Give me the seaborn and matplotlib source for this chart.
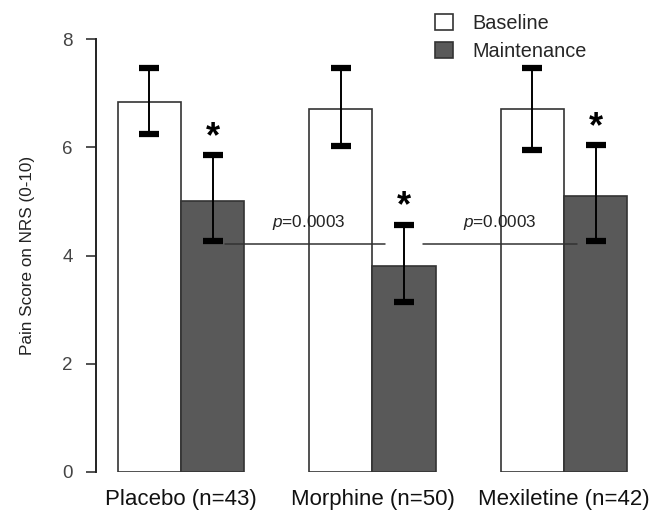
import matplotlib
matplotlib.use("Agg")
import matplotlib.pyplot as plt
import seaborn as sns
import pandas as pd
import numpy as np

# ---- data ----
groups = ["Placebo (n=43)", "Morphine (n=50)", "Mexiletine (n=42)"]
phases = ["Baseline", "Maintenance"]
baseline_mean = [6.83, 6.70, 6.70]
baseline_upper = [7.46, 7.46, 7.46]
baseline_lower = [6.24, 6.03, 5.95]
maint_mean = [5.01, 3.80, 5.10]
maint_upper = [5.86, 4.57, 6.04]
maint_lower = [4.26, 3.14, 4.26]
p_labels = ["p=0.0003", "p=0.0003"]
p_line_level = 4.22
y_ticks = [0, 2, 4, 6, 8]

sns.set_theme(style="white")
plt.rcParams["font.family"] = ["Liberation Sans", "DejaVu Sans"]
plt.rcParams["mathtext.fontset"] = "custom"
plt.rcParams["mathtext.rm"] = "Liberation Sans"
plt.rcParams["mathtext.it"] = "Liberation Sans:italic"

df = pd.DataFrame({
    "group": groups * 2,
    "phase": ["Baseline"] * 3 + ["Maintenance"] * 3,
    "value": baseline_mean + maint_mean,
})

fig = plt.figure(figsize=(6.5, 5.14), dpi=100)
ax = fig.add_axes([95.7 / 650, 42 / 514, 544.3 / 650, 433 / 514])

palette = {"Baseline": "white", "Maintenance": "#595959"}
sns.barplot(data=df, x="group", y="value", hue="phase", order=groups,
            hue_order=phases, palette=palette, width=0.662, errorbar=None,
            edgecolor="#333333", linewidth=1.2, ax=ax, saturation=1)

means = {"Baseline": baseline_mean, "Maintenance": maint_mean}
uppers = {"Baseline": baseline_upper, "Maintenance": maint_upper}
lowers = {"Baseline": baseline_lower, "Maintenance": maint_lower}

centers = {}
for cont, ph in zip(ax.containers, phases):
    xs = np.array([p.get_x() + p.get_width() / 2 for p in cont])
    centers[ph] = xs
    m = np.array(means[ph]); u = np.array(uppers[ph]); l = np.array(lowers[ph])
    ax.errorbar(xs, m, yerr=[m - l, u - m], fmt="none", ecolor="black",
                elinewidth=1.4, capsize=7.2, capthick=4.5, zorder=5,
                clip_on=False)

# asterisks on maintenance bars
for x, u in zip(centers["Maintenance"], maint_upper):
    ax.annotate("*", (x, u), xytext=(0, 0), textcoords="offset points",
                ha="center", va="bottom", fontsize=26, fontweight="bold",
                color="black", zorder=6)

# p-value lines
mc = centers["Maintenance"]
segs = [(mc[0] + 0.065, mc[1] - 0.10), (mc[1] + 0.10, mc[2] - 0.10)]
for (x0, x1) in segs:
    ax.plot([x0, x1], [p_line_level, p_line_level], color="#333333",
            lw=1.1, zorder=4)
for i, lab in enumerate(p_labels):
    xm = (mc[i] + mc[i + 1]) / 2
    txt = r"$\it{p}$" + lab[1:]
    ax.text(xm, p_line_level + 0.22, txt, ha="center", va="bottom",
            fontsize=12.3, color="#222222", zorder=6)

ax.set_ylim(0, 8)
ax.set_xlim(-0.4454, 2.3969)
ax.set_yticks(y_ticks)
ax.set_yticklabels([str(t) for t in y_ticks], fontsize=13.5, color="#444444")
ax.tick_params(axis="y", length=7.5, width=1.1, color="#222222", pad=9, left=True)
ax.tick_params(axis="x", length=0, pad=12, labelsize=16, labelcolor="#111111")
ax.set_xlabel("")
ax.set_ylabel("Pain Score on NRS (0-10)", fontsize=12.3, color="#222222", labelpad=20)
for s in ["top", "right", "bottom"]:
    ax.spines[s].set_visible(False)
ax.spines["left"].set_bounds(0, 8)
ax.spines["left"].set_linewidth(1.4)
ax.spines["left"].set_color("#222222")

handles, labels = ax.get_legend_handles_labels()
if ax.get_legend() is not None:
    ax.get_legend().remove()
fig.legend(handles, labels, loc="upper left", bbox_to_anchor=(421 / 650, 1.0),
           frameon=False, fontsize=14.3, handlelength=0.9, handleheight=0.9,
           handletextpad=1.0, labelspacing=0.45, borderpad=0.2)

fig.savefig("out.png", dpi=100)
